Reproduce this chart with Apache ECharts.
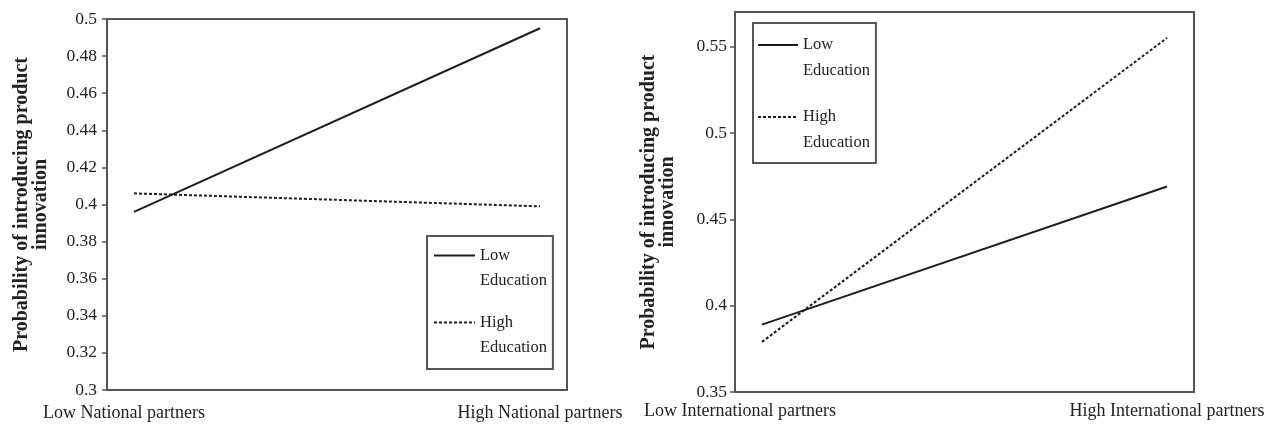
<!DOCTYPE html>
<html>
<head>
<meta charset="utf-8">
<script src="https://cdn.jsdelivr.net/npm/echarts@6/dist/echarts.min.js"></script>
<style>
  html, body { margin: 0; padding: 0; background: #ffffff; }
  #chart { width: 1274px; height: 433px; }
</style>
</head>
<body>
<div id="chart"></div>
<script>
// Predicted probability of introducing a product innovation,
// by partner level (low / high) and education level.
const seriesNames = ['Low Education', 'High Education'];

const nationalLabels = ['Low National partners', 'High National partners'];
const nationalLowEdu = [0.396, 0.495];
const nationalHighEdu = [0.406, 0.399];
const nationalTicks = [0.3, 0.32, 0.34, 0.36, 0.38, 0.4, 0.42, 0.44, 0.46, 0.48, 0.5];

const internationalLabels = ['Low International partners', 'High International partners'];
const internationalLowEdu = [0.389, 0.469];
const internationalHighEdu = [0.379, 0.555];
const internationalTicks = [0.35, 0.4, 0.45, 0.5, 0.55];

const yTitle = 'Probability of introducing product\ninnovation';

const FONT = 'Liberation Serif';
const INK = '#1e1e1e';
const FRAME = '#555555';

// Legend icons: a line sample sitting on the first text line of a two-line label.
function solidIcon(w, h, y) {
  return 'path://M0,0L0,0M' + w + ',' + h + 'L' + w + ',' + h +
         'M0,' + (y - 1) + 'h' + w + 'v2h-' + w + 'z';
}
function dashIcon(w, h, y, dash, gap) {
  let p = 'path://M0,0L0,0M' + w + ',' + h + 'L' + w + ',' + h;
  for (let x = 0; x < w; x += dash + gap) {
    const d = Math.min(dash, w - x);
    p += 'M' + x + ',' + (y - 1) + 'h' + d + 'v2h-' + d + 'z';
  }
  return p;
}

function legendFor(left, top, padding, gap, w, h, lineH) {
  return {
    orient: 'vertical',
    left: left,
    top: top,
    padding: padding,
    itemGap: gap,
    itemWidth: w,
    itemHeight: h,
    borderColor: FRAME,
    borderWidth: 2,
    selectedMode: false,
    itemStyle: { borderWidth: 0 },
    textStyle: { fontFamily: FONT, fontSize: 16.5, lineHeight: lineH, color: '#222' },
    formatter: name => name.replace(' ', '\n'),
    data: [
      { name: seriesNames[0], icon: solidIcon(w, h, lineH / 2) },
      { name: seriesNames[1], icon: dashIcon(w, h, lineH / 2, 3, 2) }
    ]
  };
}

// Category captions under the two ends; the "low" caption sits a little left of its point.
function xAxisFor(gridIndex, labels, margin, lowShift) {
  return {
    type: 'value',
    gridIndex: gridIndex,
    min: -0.0665,
    max: 1.0665,
    splitLine: { show: false },
    axisTick: { show: false },
    axisLine: { show: true, onZero: false, lineStyle: { color: FRAME, width: 2 } },
    axisLabel: {
      customValues: [0, 1],
      formatter: v => (Math.round(v) === 0 ? '{low|' : '{high|') + labels[Math.round(v)] + '}',
      rich: {
        low: { fontFamily: FONT, fontSize: 18, color: '#222', padding: [0, lowShift * 2, 0, 0] },
        high: { fontFamily: FONT, fontSize: 18, color: '#222' }
      },
      fontFamily: FONT,
      fontSize: 18,
      color: '#222',
      margin: margin
    }
  };
}

function yAxisFor(gridIndex, ticks, extra, nameGap, labelMargin) {
  return Object.assign({
    type: 'value',
    gridIndex: gridIndex,
    name: yTitle,
    nameLocation: 'middle',
    nameRotate: 90,
    nameGap: nameGap,
    nameTextStyle: { fontFamily: FONT, fontSize: 20, fontWeight: 'bold', lineHeight: 19, color: '#222', align: 'center' },
    splitLine: { show: false },
    axisLine: { show: true, onZero: false, lineStyle: { color: FRAME, width: 2 } },
    axisTick: { show: true, inside: false, length: 5, customValues: ticks, lineStyle: { color: FRAME, width: 1.5 } },
    axisLabel: { customValues: ticks, fontFamily: FONT, fontSize: 17.5, color: '#222', margin: labelMargin }
  }, extra);
}

function lineSeries(name, values, axisIndex, dashed) {
  return {
    name: name,
    type: 'line',
    xAxisIndex: axisIndex,
    yAxisIndex: axisIndex,
    data: values.map((v, i) => [i, v]),
    symbol: 'none',
    color: INK,
    lineStyle: { color: INK, width: 2, type: dashed ? [3, 2] : 'solid' },
    animation: false,
    silent: true
  };
}

const chart = echarts.init(document.getElementById('chart'), null, { renderer: 'canvas' });
chart.setOption({
  backgroundColor: '#ffffff',
  animation: false,
  grid: [
    { left: 107, top: 19, width: 460, height: 371, show: true, borderColor: FRAME, borderWidth: 2, containLabel: false },
    { left: 735, top: 12, width: 459, height: 380, show: true, borderColor: FRAME, borderWidth: 2, containLabel: false }
  ],
  legend: [
    legendFor(427, 236, [7, 6, 9, 7], 17, 41, 50, 25),
    legendFor(753, 23, [9, 6, 7, 5], 20, 40, 52, 26)
  ],
  xAxis: [
    xAxisFor(0, nationalLabels, 14, 10),
    xAxisFor(1, internationalLabels, 10, 22)
  ],
  yAxis: [
    yAxisFor(0, nationalTicks, { min: 0.3, max: 0.5, interval: 0.02 }, 57, 10),
    yAxisFor(1, internationalTicks, { min: 0.35, max: 0.57, interval: 0.05 }, 58, 8)
  ],
  series: [
    lineSeries(seriesNames[0], nationalLowEdu, 0, false),
    lineSeries(seriesNames[1], nationalHighEdu, 0, true),
    lineSeries(seriesNames[0], internationalLowEdu, 1, false),
    lineSeries(seriesNames[1], internationalHighEdu, 1, true)
  ]
});
</script>
</body>
</html>
